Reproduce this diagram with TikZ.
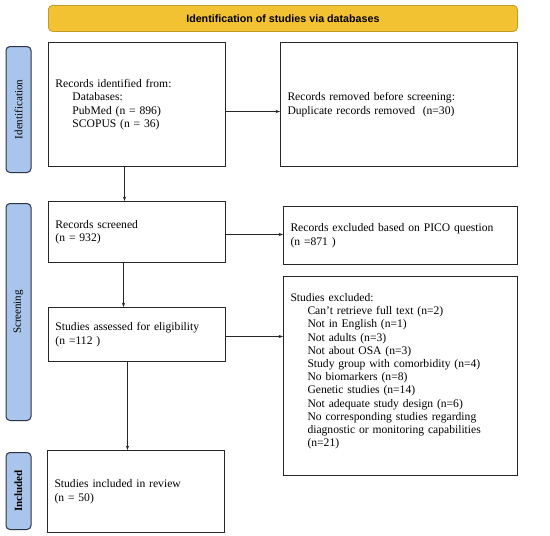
\documentclass[tikz,border=0pt]{standalone}
\usepackage{fontspec}
\setmainfont{Liberation Serif}
\newfontfamily\bannerfont{Liberation Sans}
\usetikzlibrary{arrows.meta,calc}
\definecolor{bannerfill}{HTML}{F2C232}
\definecolor{bannerdraw}{HTML}{BF9B2A}
\definecolor{sidefill}{HTML}{A9C5EB}
\definecolor{sidedraw}{HTML}{2B3445}
\tikzset{
  box/.style={draw=black!85, line width=1pt, align=left, anchor=north west,
    inner xsep=7pt, inner ysep=0pt, font=\fontsize{11.6}{13.5}\selectfont},
  banner/.style={draw=bannerdraw, fill=bannerfill, line width=0.8pt, rounded corners=4pt,
    anchor=north west, inner sep=0pt, font=\bannerfont\bfseries\fontsize{10.7}{12}\selectfont},
  side/.style={draw=sidedraw, fill=sidefill, line width=1pt, rounded corners=4pt,
    anchor=north west, inner sep=0pt, minimum width=25pt},
  sidetext/.style={rotate=90, font=\fontsize{11}{12}\selectfont},
  arr/.style={-{Stealth[length=4.5pt,width=3.2pt]}, line width=0.6pt, draw=black!85},
}
\begin{document}
\begin{tikzpicture}[x=1pt,y=-1pt]
\useasboundingbox (0,0) rectangle (550,536);
\fill[white] (0,0) rectangle (550,536);

\node[banner, minimum width=469pt, minimum height=26pt] (ban) at (48,5) {Identification of studies via databases};

\node[side, minimum height=126pt] (sid) at (5.5,46) {};
\node[sidetext] (sidt) at (sid.center) {Identification};
\node[side, minimum height=217pt] (sscr) at (5.5,203) {};
\node[sidetext] (sscrt) at (sscr.center) {Screening};
\node[side, minimum height=77pt] (sinc) at (5.5,452) {};
\node[sidetext, font=\bfseries\fontsize{11}{12}\selectfont] (sinct) at (sinc.center) {Included};

\node[box, text width=163pt, minimum height=124pt] (b1) at (48,42)
  {Records identified from:\\
   \hspace*{17pt}Databases:\\
   \hspace*{17pt}PubMed (n = 896)\\
   \hspace*{17pt}SCOPUS (n = 36)};
\node[box, text width=223pt, minimum height=124pt] (b2) at (280,42)
  {Records removed before screening:\\
   Duplicate records removed\ \ (n=30)};
\node[box, text width=163pt, minimum height=61pt] (b3) at (48,201)
  {Records screened\\ (n = 932)};
\node[box, text width=220pt, minimum height=58pt] (b4) at (283,206)
  {Records excluded based on PICO question\\ (n =871 )};
\node[box, text width=163pt, minimum height=54pt] (b5) at (48,307)
  {Studies assessed for eligibility\\ (n =112 )};
\node[box, text width=220pt, minimum height=199pt, font=\fontsize{11.6}{13.2}\selectfont] (b6) at (283,276)
  {Studies excluded:\\
   \hspace*{17pt}Can’t retrieve full text (n=2)\\
   \hspace*{17pt}Not in English (n=1)\\
   \hspace*{17pt}Not adults (n=3)\\
   \hspace*{17pt}Not about OSA (n=3)\\
   \hspace*{17pt}Study group with comorbidity (n=4)\\
   \hspace*{17pt}No biomarkers (n=8)\\
   \hspace*{17pt}Genetic studies (n=14)\\
   \hspace*{17pt}Not adequate study design (n=6)\\
   \hspace*{17pt}No corresponding studies regarding\\
   \hspace*{17pt}diagnostic or monitoring capabilities\\
   \hspace*{17pt}(n=21)\\[-1.2pt]\mbox{}};
\node[box, text width=163pt, minimum height=82pt] (b7) at (47,450)
  {Studies included in review\\ (n = 50)};

\draw[arr] ([yshift=-7pt]b1.east) -- ([yshift=-7pt]b1.east -| b2.west);
\draw[arr] ([xshift=-12.5pt]b1.south) -- ([xshift=-12.5pt]b1.south |- b3.north);
\draw[arr] ([yshift=-2.5pt]b3.east) -- ([yshift=-2.5pt]b3.east -| b4.west);
\draw[arr] ([xshift=-13.5pt]b3.south) -- ([xshift=-13.5pt]b3.south |- b5.north);
\draw[arr] ([yshift=-2pt]b5.east) -- ([yshift=-2pt]b5.east -| b6.west);
\draw[arr] ([xshift=-9.5pt]b5.south) -- ([xshift=-9.5pt]b5.south |- b7.north);
\end{tikzpicture}
\end{document}
